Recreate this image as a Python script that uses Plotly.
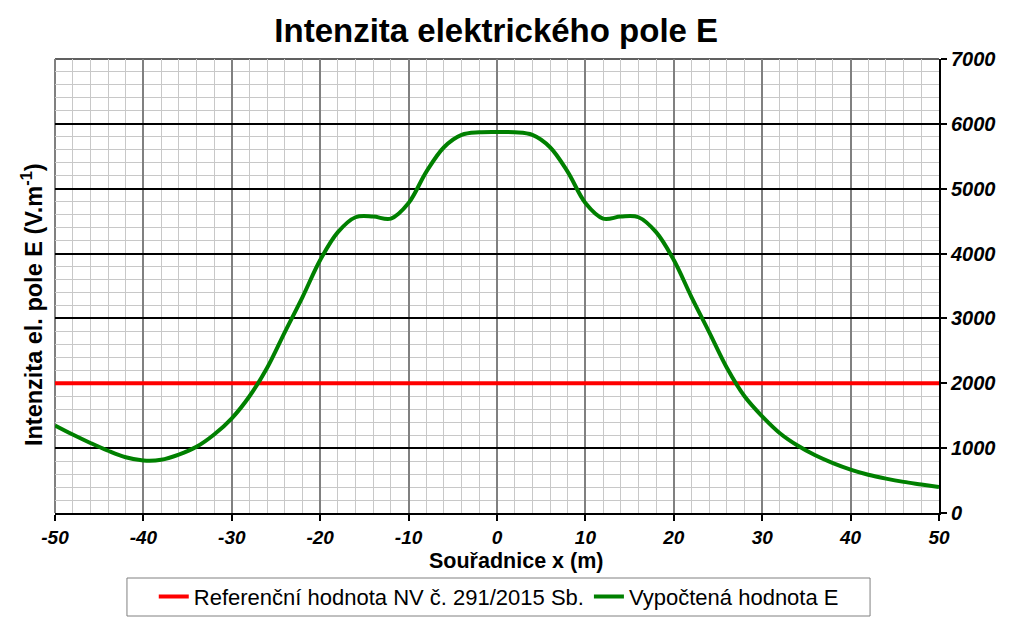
import plotly.graph_objects as go

x_m = [-50, -48, -46, -44, -42, -40, -38, -36, -34, -32, -30, -28, -26, -24, -22, -20,
       -18, -16, -14, -12, -10, -8, -6, -4, -2, 0, 2, 4, 6, 8, 10, 12, 14, 16, 18, 20,
       22, 24, 26, 28, 30, 32, 34, 36, 38, 40, 42, 44, 46, 48, 50]
e_calc = [1350, 1210, 1080, 960, 860, 810, 820, 900, 1020, 1210, 1460, 1800, 2240, 2790,
          3330, 3900, 4330, 4560, 4570, 4540, 4780, 5260, 5640, 5830, 5870, 5875, 5870,
          5830, 5640, 5260, 4780, 4540, 4570, 4560, 4330, 3900, 3330, 2790, 2240, 1800,
          1490, 1230, 1040, 890, 770, 670, 590, 530, 480, 440, 400]
ref_x = [-50, 50]
ref_val = [2000, 2000]

x_tickvals = [-50, -40, -30, -20, -10, 0, 10, 20, 30, 40, 50]
x_ticktext = ["-50", "-40", "-30", "-20", "-10", "0", "10", "20", "30", "40", "50"]
y_tickvals = [0, 1000, 2000, 3000, 4000, 5000, 6000, 7000]

title_text = "Intenzita elektrického pole E"
x_title = "Souřadnice x (m)"
y_title = "Intenzita el. pole E (V.m<sup>-1</sup>)"
ref_name = "Referenční hodnota NV č. 291/2015 Sb."
calc_name = "Vypočtená hodnota E"

FONT = "Liberation Sans, Arial, sans-serif"

fig = go.Figure()
fig.add_trace(go.Scatter(x=ref_x, y=ref_val, mode="lines", name=ref_name,
                         line=dict(color="#ff0000", width=4)))
fig.add_trace(go.Scatter(x=x_m, y=e_calc, mode="lines", name=calc_name,
                         line=dict(color="#008000", width=4, shape="spline", smoothing=1.0)))

# page body has an 8px margin, so the figure is shrunk by 8px and margins offset
fig.update_layout(
    width=1015, height=613,
    margin=dict(l=47, r=84, t=51, b=108, autoexpand=False),
    paper_bgcolor="white", plot_bgcolor="white",
    font=dict(family=FONT, color="black"),
    title=dict(text=title_text, x=0.481, xanchor="center", y=0.963, yanchor="middle",
               yref="container",
               font=dict(size=33, family=FONT, weight="bold", color="black")),
    showlegend=True,
    legend=dict(orientation="h", x=0.502, xanchor="center", y=0.074, yanchor="top",
                yref="container", xref="paper",
                borderwidth=0, bgcolor="rgba(0,0,0,0)",
                font=dict(size=22, family=FONT), itemwidth=30),
    xaxis=dict(range=[-50, 50], tickvals=x_tickvals, ticktext=x_ticktext,
               automargin=False,
               showgrid=True, gridcolor="#808080", gridwidth=2,
               minor=dict(dtick=2, tick0=-50, showgrid=True, gridcolor="#c8c8c8", gridwidth=1),
               showline=True, linecolor="black", linewidth=2,
               ticks="outside", ticklen=6, tickwidth=2, tickcolor="black",
               zeroline=False,
               tickfont=dict(size=19, family=FONT, weight="bold", style="italic")),
    yaxis=dict(range=[0, 7000], tickvals=y_tickvals, side="right",
               automargin=False,
               showgrid=True, gridcolor="black", gridwidth=2,
               minor=dict(dtick=200, tick0=0, showgrid=True, gridcolor="#c8c8c8", gridwidth=1),
               showline=True, linecolor="black", linewidth=2,
               ticks="outside", ticklen=6, tickwidth=2, tickcolor="black",
               zeroline=False,
               tickfont=dict(size=20, family=FONT, weight="bold", style="italic")),
)

fig.add_shape(type="line", xref="paper", yref="paper", x0=0, x1=1, y0=1, y1=1,
              line=dict(color="#606060", width=2), layer="between")
fig.add_shape(type="line", xref="paper", yref="paper", x0=0, x1=0, y0=0, y1=1,
              line=dict(color="#808080", width=2), layer="between")
# legend frame
fig.add_shape(type="rect", xref="paper", yref="paper", x0=0.0814, x1=0.922,
              y0=-0.1432, y1=-0.2269, line=dict(color="#808080", width=1),
              fillcolor="rgba(0,0,0,0)", layer="above")

fig.add_annotation(text=y_title, xref="paper", yref="paper", x=-0.026, y=0.458,
                   xanchor="center", yanchor="middle", textangle=-90, showarrow=False,
                   font=dict(size=23.5, family=FONT, weight="bold", color="black"))
fig.add_annotation(text=x_title, xref="paper", yref="paper", x=0.5215, y=-0.1057,
                   xanchor="center", yanchor="middle", showarrow=False,
                   font=dict(size=21.5, family=FONT, weight="bold", color="black"))

fig.write_html("out.html")
